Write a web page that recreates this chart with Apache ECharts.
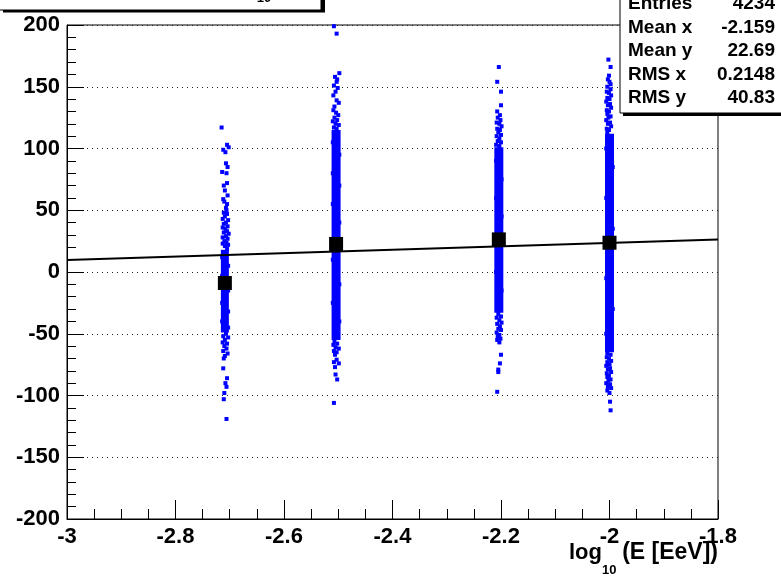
<!DOCTYPE html>
<html>
<head>
<meta charset="utf-8">
<script src="https://cdn.jsdelivr.net/npm/echarts@6/dist/echarts.min.js"></script>
<style>
html,body{margin:0;padding:0;background:#fff;}
#c{width:781px;height:576px;}
</style>
</head>
<body>
<div id="c"></div>
<script>
// ---- data ----
const columnX = [-2.709, -2.504, -2.204, -2.0];        // log10(E) of the four energy groups
const profileMean = [-8.9, 22.7, 26.4, 23.7];          // black squares (profile means)
const coreLow = [-49, -55, -33, -65];                  // dense part of each column, lower end
const coreHigh = [18, 115, 101, 112];                  // dense part of each column, upper end
const fitX = [-3, -1.8];
const fitY = [9.8, 26.3];
const xTicks = [-3, -2.8, -2.6, -2.4, -2.2, -2, -1.8];
const yTicks = [-200, -150, -100, -50, 0, 50, 100, 150, 200];

const col1Points = [
  [-2.715,117],[-2.705,103],[-2.712,99],[-2.702,101],[-2.708,97],[-2.707,88],[-2.704,85],[-2.714,81],
  [-2.706,80],[-2.705,72],[-2.711,70],[-2.709,66],[-2.704,62],[-2.712,59],[-2.710,57],[-2.705,55],
  [-2.707,52],[-2.706,50],
  [-2.711,48],[-2.705,47],[-2.709,45],[-2.713,43],[-2.703,42],[-2.707,40],[-2.711,39],[-2.704,37],
  [-2.713,36],[-2.708,35],[-2.705,33],[-2.711,32],[-2.702,31],[-2.707,29],[-2.713,28],[-2.704,27],
  [-2.710,25],[-2.706,24],[-2.713,23],[-2.703,22],[-2.709,21],[-2.705,19],
  [-2.714,12],[-2.703,5],[-2.714,-3],[-2.703,-15],[-2.714,-25],[-2.703,-32],[-2.714,-40],[-2.703,-45],
  [-2.707,-50],[-2.712,-52],[-2.703,-53],[-2.709,-55],[-2.713,-57],[-2.705,-58],[-2.710,-60],
  [-2.706,-62],[-2.712,-64],[-2.704,-66],[-2.709,-68],[-2.711,-70],
  [-2.712,-78],[-2.705,-86],[-2.708,-90],[-2.706,-93],[-2.710,-98],[-2.711,-103],[-2.706,-119]
];
const col2Points = [
  [-2.508,199],[-2.503,193],[-2.498,161],[-2.506,158],[-2.502,156],[-2.503,154],[-2.508,151],
  [-2.501,149],[-2.505,146],[-2.509,143],[-2.503,139],[-2.499,137],[-2.507,134],[-2.509,131],
  [-2.504,129],[-2.500,127],
  [-2.507,125],[-2.502,123],[-2.510,122],[-2.505,120],[-2.499,119],[-2.508,117],[-2.503,116],
  [-2.510,105],[-2.498,95],[-2.510,80],[-2.498,70],[-2.510,55],[-2.498,40],[-2.510,10],[-2.498,-10],
  [-2.510,-25],[-2.498,-40],
  [-2.507,-56],[-2.502,-58],[-2.509,-59],[-2.505,-61],[-2.499,-62],[-2.508,-64],[-2.503,-65],[-2.506,-67],
  [-2.503,-71],[-2.508,-73],[-2.499,-74],[-2.506,-77],[-2.505,-83],[-2.502,-87],[-2.508,-106]
];
const col3Points = [
  [-2.204,166],[-2.207,154],[-2.200,146],[-2.200,135],[-2.207,130],[-2.202,127],[-2.206,125],
  [-2.201,123],[-2.208,121],[-2.203,120],[-2.199,118],[-2.207,116],[-2.202,115],[-2.205,113],
  [-2.200,111],[-2.208,110],[-2.203,108],[-2.206,106],[-2.200,105],[-2.209,103],[-2.203,102],
  [-2.209,90],[-2.199,75],[-2.209,60],[-2.199,45],[-2.209,0],[-2.199,-15],
  [-2.205,-34],[-2.200,-36],[-2.208,-37],[-2.203,-39],[-2.199,-41],[-2.207,-42],[-2.202,-44],
  [-2.205,-46],[-2.200,-47],[-2.208,-49],[-2.203,-51],[-2.206,-52],[-2.201,-54],[-2.207,-55],[-2.203,-57],
  [-2.200,-67],[-2.202,-74],[-2.205,-79],[-2.205,-81],[-2.207,-97]
];
const col4Points = [
  [-2.002,172],[-1.998,166],[-2.001,159],[-2.003,156],[-2.000,154],[-1.998,152],
  [-2.004,150],[-1.998,148],[-2.005,146],[-2.001,145],[-1.997,143],[-2.004,141],[-2.000,140],
  [-2.006,138],[-1.999,136],[-2.003,135],[-1.997,133],[-2.005,131],[-2.001,130],[-2.004,128],
  [-1.998,126],[-2.002,125],[-2.006,123],[-1.999,121],[-2.003,120],[-1.997,118],[-2.005,116],
  [-2.001,115],[-2.004,113],
  [-2.006,100],[-1.994,85],[-2.006,60],[-1.994,35],[-2.006,-5],[-1.994,-30],[-2.006,-50],
  [-2.004,-66],[-1.998,-67],[-2.005,-69],[-2.001,-70],[-1.997,-72],[-2.004,-73],[-2.000,-75],
  [-2.006,-76],[-1.999,-78],[-2.003,-79],[-1.997,-81],[-2.005,-82],[-2.001,-84],[-2.004,-85],
  [-1.998,-87],[-2.002,-88],[-2.006,-90],[-1.999,-91],[-2.003,-93],[-1.997,-94],[-2.004,-96],
  [-2.000,-98],
  [-1.999,-105],[-1.998,-112]
];
const statLabels = ['Entries', 'Mean x', 'Mean y', 'RMS x', 'RMS y'];
const statValues = ['4234', '-2.159', '22.69', '0.2148', '40.83'];

// ---- styles ----
const bandWidths = [8, 9, 9, 9];
const BLUE = '#0000ff';
const FONT = 'Liberation Sans, Arial, Helvetica, sans-serif';

const chart = echarts.init(document.getElementById('c'), null, {renderer: 'canvas'});

const statGraphics = [];
const statY = [4, 28, 51, 75, 98];
statLabels.forEach((l, i) => {
  statGraphics.push({type: 'text', z: 102, style: {x: 628, y: statY[i], text: l, fill: '#000',
    font: 'bold 19px ' + FONT, textAlign: 'left', textVerticalAlign: 'middle'}});
  statGraphics.push({type: 'text', z: 102, style: {x: 775, y: statY[i], text: statValues[i], fill: '#000',
    font: 'bold 19px ' + FONT, textAlign: 'right', textVerticalAlign: 'middle'}});
});

const pointSeries = [col1Points, col2Points, col3Points, col4Points].map(d => ({
  type: 'scatter', z: 2, symbol: 'rect', symbolSize: 4, itemStyle: {color: BLUE, opacity: 1}, data: d
}));

const option = {
  animation: false,
  backgroundColor: '#fff',
  grid: {left: 67, right: 63, top: 25, bottom: 57, show: true, borderColor: '#000', borderWidth: 1},
  xAxis: {
    type: 'value', min: xTicks[0], max: xTicks[xTicks.length - 1], interval: 0.2,
    axisLine: {show: true, onZero: false, lineStyle: {color: '#000', width: 1}},
    axisTick: {show: true, inside: true, length: 19, lineStyle: {color: '#000', width: 1}},
    minorTick: {show: true, splitNumber: 4, length: 10, lineStyle: {color: '#000', width: 1}},
    splitLine: {show: false},
    axisLabel: {color: '#000', fontSize: 22, fontWeight: 'bold', fontFamily: FONT, margin: 7,
      formatter: v => String(Math.round(v * 10) / 10)}
  },
  yAxis: {
    type: 'value', min: yTicks[0], max: yTicks[yTicks.length - 1], interval: 50,
    axisLine: {show: true, onZero: false, lineStyle: {color: '#000', width: 1}},
    axisTick: {show: true, inside: true, length: 17, lineStyle: {color: '#000', width: 1}},
    minorTick: {show: true, splitNumber: 5, length: 9, lineStyle: {color: '#000', width: 1}},
    splitLine: {show: true, lineStyle: {color: '#222', width: 1, type: [1, 4]}},
    axisLabel: {color: '#000', fontSize: 22, fontWeight: 'bold', fontFamily: FONT, margin: 7}
  },
  series: [
    {
      type: 'custom', z: 2,
      renderItem: (params, api) => {
        const x = api.value(0), lo = api.value(1), hi = api.value(2);
        const p1 = api.coord([x, hi]);
        const p2 = api.coord([x, lo]);
        const w = bandWidths[params.dataIndex];
        return {type: 'rect', shape: {x: p1[0] - w / 2, y: p1[1], width: w, height: p2[1] - p1[1]},
          style: {fill: BLUE}};
      },
      encode: {x: 0, y: [1, 2]},
      data: columnX.map((x, i) => [x, coreLow[i], coreHigh[i]])
    },
    ...pointSeries,
    {type: 'line', z: 3, showSymbol: false, symbol: 'none', lineStyle: {color: '#000', width: 2},
      data: fitX.map((x, i) => [x, fitY[i]])},
    {type: 'scatter', z: 4, symbol: 'rect', symbolSize: 14, itemStyle: {color: '#000', opacity: 1},
      data: columnX.map((x, i) => [x, profileMean[i]])}
  ],
  graphic: [
    // title box (mostly cut off at the top)
    {type: 'rect', z: 100, shape: {x: 3, y: -30, width: 322, height: 42.5}, style: {fill: '#000'}},
    {type: 'rect', z: 101, shape: {x: -5, y: -30, width: 326, height: 40}, style: {fill: '#fff', stroke: '#000', lineWidth: 1}},
    {type: 'text', z: 102, style: {x: 264, y: 5, text: '10', fill: '#000', font: 'bold 13px ' + FONT,
      textAlign: 'center', textVerticalAlign: 'bottom'}},
    // stats box
    {type: 'rect', z: 100, shape: {x: 623, y: -30, width: 200, height: 146}, style: {fill: '#000'}},
    {type: 'rect', z: 101, shape: {x: 620, y: -30, width: 200, height: 143}, style: {fill: '#fff', stroke: '#000', lineWidth: 1}},
    ...statGraphics,
    // x-axis title
    {type: 'text', z: 102, style: {x: 569, y: 564, text: 'log', fill: '#000', font: 'bold 22px ' + FONT,
      textAlign: 'left', textVerticalAlign: 'bottom'}},
    {type: 'text', z: 102, style: {x: 602, y: 577, text: '10', fill: '#000', font: 'bold 13px ' + FONT,
      textAlign: 'left', textVerticalAlign: 'bottom'}},
    {type: 'text', z: 102, style: {x: 718, y: 564, text: '(E [EeV])', fill: '#000', font: 'bold 23px ' + FONT,
      textAlign: 'right', textVerticalAlign: 'bottom'}}
  ]
};
chart.setOption(option);
</script>
</body>
</html>
